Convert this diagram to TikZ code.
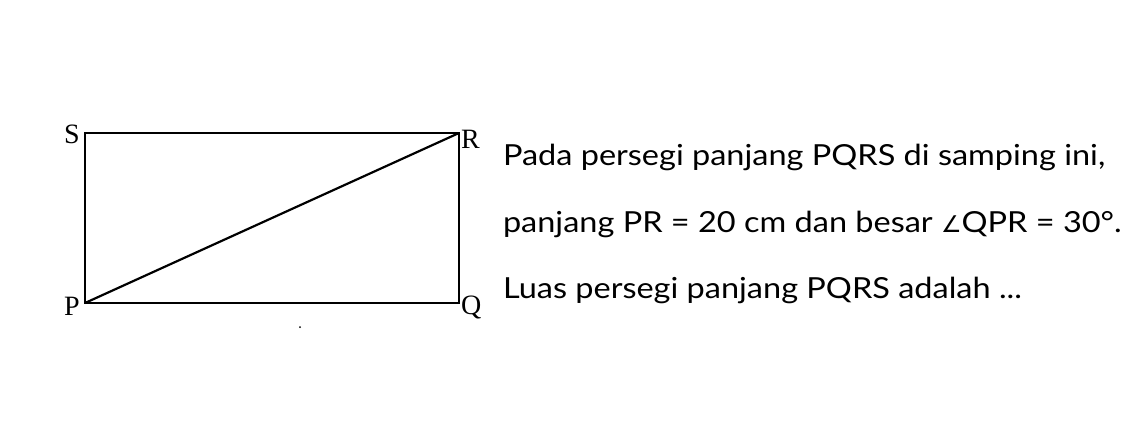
\documentclass[tikz,border=0pt]{standalone}
\usepackage{fontspec}
\setmainfont{Liberation Serif}
\newfontfamily\qfont[FakeStretch=1.12]{Lato}
\newfontfamily\symfont{DejaVu Sans}
\usetikzlibrary{positioning}

\begin{document}
\begin{tikzpicture}[x=1pt,y=-1pt,
every node/.style={inner sep=0pt,outer sep=0pt},
vertex/.style={anchor=base west,font=\fontsize{28}{28}\selectfont},
line/.style={anchor=base west,font=\qfont\fontsize{29}{29}\selectfont},
edge/.style={line width=2.2pt,line join=miter}]
\useasboundingbox (0,0) rectangle (1148,440);
% corners of the rectangle
\coordinate (P) at (85,303);
\coordinate (Q) at (459,303);
\coordinate (R) at (459,133);
\coordinate (S) at (85,133);
\draw[edge] (P) -- (Q) -- (R) -- (S) -- cycle;
\draw[edge] (P) -- (R);
% corner labels
\node[vertex](lS) at (64,143) {S};
\node[vertex](lR) at (461,148) {R};
\node[vertex](lP) at (64,315) {P};
\node[vertex](lQ) at (461,314) {Q};
\coordinate (dot) at (300,327);
\fill (dot) circle (1);
% question text
\node[line](t1) at (503,165) {Pada persegi panjang PQRS di samping ini,};
\node[line](t2) at (503,232) {panjang PR = 20 cm dan besar {\symfont\fontsize{23}{23}\selectfont\char"2220}QPR = 30°.};
\node[line](t3) at (503,298) {Luas persegi panjang PQRS adalah ...};
\end{tikzpicture}
\end{document}
